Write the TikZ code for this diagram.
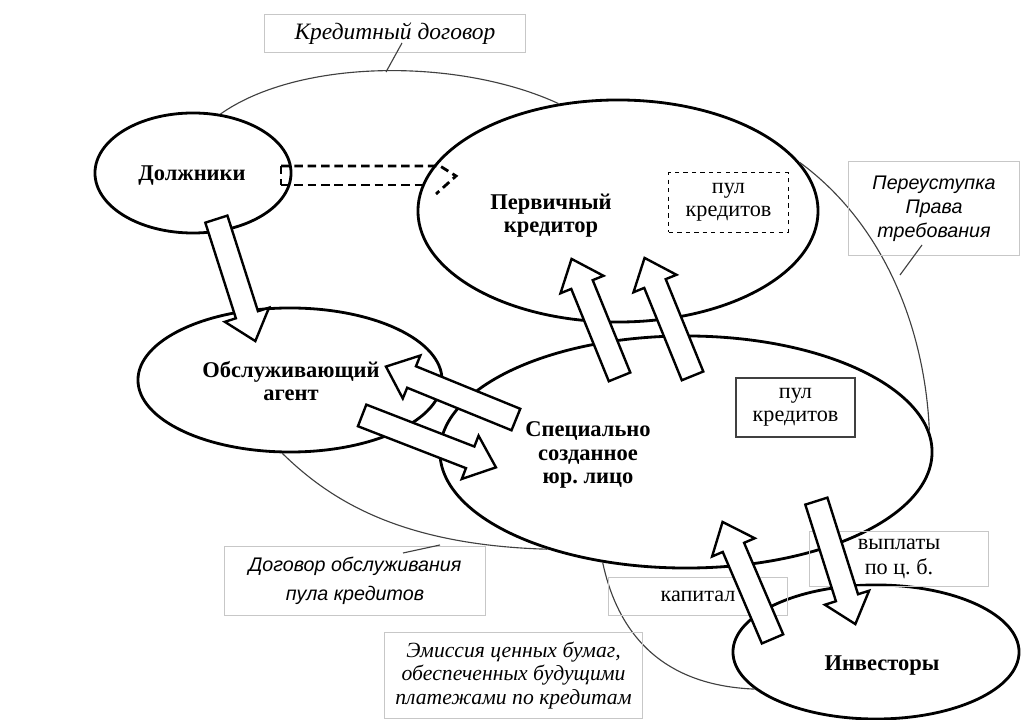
\documentclass[tikz,border=0pt]{standalone}
\usepackage{fontspec}
\setmainfont{Liberation Serif}
\newfontfamily\notesans{Liberation Sans}
\usepackage{tikz}
\usetikzlibrary{shapes.geometric,shapes.arrows,calc}

\tikzset{
  party/.style={ellipse, draw, line width=2pt, fill=white, inner sep=0pt},
  partytext/.style={font=\fontsize{16}{16.5}\selectfont\bfseries, align=center},
  notebox/.style={draw=black!22, line width=0.7pt, inner sep=0pt, align=center},
  noteserif/.style={font=\fontsize{15.4}{17}\selectfont\itshape},
  notesans/.style={font=\fontsize{14}{17}\selectfont\notesans\itshape},
  pooltext/.style={font=\fontsize{15.8}{16}\selectfont, align=center},
  fatarrow/.style={single arrow, draw, fill=white, line width=1.7pt,
    inner xsep=0pt, inner ysep=0.26cm, single arrow head extend=0.29cm,
    single arrow tip angle=80},
  thread/.style={draw=black!75, line width=0.8pt},
  link/.style={dashed, line width=2pt, dash pattern=on 6pt off 3.5pt},
}

\newcommand{\fatarrow}[2]{%
  \path let \p1=($(#2)-(#1)$) in
    node[fatarrow, minimum height={veclen(\x1,\y1)},
      rotate={atan2(\y1,\x1)}, anchor=tail] at (#1) {};}

\begin{document}
\begin{tikzpicture}[x=0.025cm, y=-0.025cm]
\useasboundingbox (0,0) rectangle (1021,720);

% участники
\node[party, minimum width=4.9cm, minimum height=3cm] (debtors) at (193,173) {};
\node[party, minimum width=10cm, minimum height=5.55cm] (primary) at (618,211) {};
\node[party, minimum width=7.6cm, minimum height=3.6cm] (agent) at (290,380) {};
\node[party, minimum width=12.3cm, minimum height=5.8cm] (spv) at (686,452) {};
\node[party, minimum width=7.15cm, minimum height=3.35cm] (investors) at (876,652) {};

\node[partytext] (debtors-t) at (192,176) {Должники};
\node[partytext] (primary-t) at (551,216) {Первичный\\кредитор};
\node[partytext] (agent-t) at (291,381) {Обслуживающий\\агент};
\node[partytext] (spv-t) at (588,455) {Специально\\созданное\\юр.\ лицо};
\node[partytext] (investors-t) at (882,666) {Инвесторы};

% пулы
\node[pooltext, draw=black, dashed, line width=0.7pt, minimum width=2.975cm, minimum height=1.475cm] (pool-a) at (728.5,202.5) {пул\\кредитов};
\node[pooltext, draw=black!75, line width=0.8pt, minimum width=2.975cm, minimum height=1.475cm] (pool-b) at (795.5,407.5) {пул\\кредитов};

% договоры
\draw[thread] (debtors.65) .. controls (300,58) and (460,58) .. (primary.119);
\draw[thread] (primary.15) .. controls (885,225) and (925,330) .. (spv.5.7);
\draw[thread] (agent.264) .. controls (330,500) and (400,545) .. (spv.215.5);
\draw[thread] (spv.233.8) .. controls (615,620) and (650,685) .. (investors.197.4);

\node[notebox, noteserif, font=\fontsize{16.7}{17}\selectfont\itshape, minimum width=6.5cm, minimum height=0.925cm] (kd-box) at (395,33.5) {Кредитный договор};
\node[notebox, notesans, minimum width=4.25cm, minimum height=2.325cm] (per-box) at (934,208.5) {Переуступка\\Права\\требования};
\node[notebox, notesans, font=\fontsize{14}{20.5}\selectfont\notesans\itshape, minimum width=6.5cm, minimum height=1.7cm] (dog-box) at (355,581) {Договор обслуживания\\пула кредитов};
\node[notebox, noteserif, minimum width=6.425cm, minimum height=2.125cm] (em-box) at (513.5,675.5) {Эмиссия ценных бумаг,\\обеспеченных будущими\\платежами по кредитам};
\node[notebox, pooltext, minimum width=4.45cm, minimum height=0.95cm] (kap-box) at (698,596) {капитал};
\node[notebox, pooltext, font=\fontsize{15.8}{18}\selectfont, minimum width=4.45cm, minimum height=1.35cm] (vyp-box) at (899,559) {выплаты\\по ц.\ б.};

\coordinate (kd-tag) at (402,43);
\coordinate (kd-arc) at (386,72);
\coordinate (per-tag) at (922,245);
\coordinate (per-arc) at (900,275);
\coordinate (dog-tag) at (403,553);
\coordinate (dog-arc) at (440,545);
\draw[thread] (kd-tag) -- (kd-arc);
\draw[thread] (per-tag) -- (per-arc);
\draw[thread] (dog-tag) -- (dog-arc);

% пунктирная связь
\draw[link] (281,166) -- (440,166) -- (456,176) -- (436,194);
\draw[link] (281,185) -- (426,185);
\draw[link] (281,166) -- (281,185);

% потоки
\coordinate (pay-tail) at (216,218);   \coordinate (pay-tip) at (255,340);
\coordinate (serv-tail) at (361,415);  \coordinate (serv-tip) at (495,467);
\coordinate (back-tail) at (517,420);  \coordinate (back-tip) at (387,367);
\coordinate (sell-tail) at (620,378);  \coordinate (sell-tip) at (572,260);
\coordinate (sell2-tail) at (693,377); \coordinate (sell2-tip) at (645,259);
\coordinate (out-tail) at (816,500);   \coordinate (out-tip) at (855,623);
\coordinate (cap-tail) at (773,640);   \coordinate (cap-tip) at (723,523);
\fatarrow{pay-tail}{pay-tip}
\fatarrow{serv-tail}{serv-tip}
\fatarrow{back-tail}{back-tip}
\fatarrow{sell-tail}{sell-tip}
\fatarrow{sell2-tail}{sell2-tip}
\fatarrow{out-tail}{out-tip}
\fatarrow{cap-tail}{cap-tip}
\end{tikzpicture}
\end{document}
